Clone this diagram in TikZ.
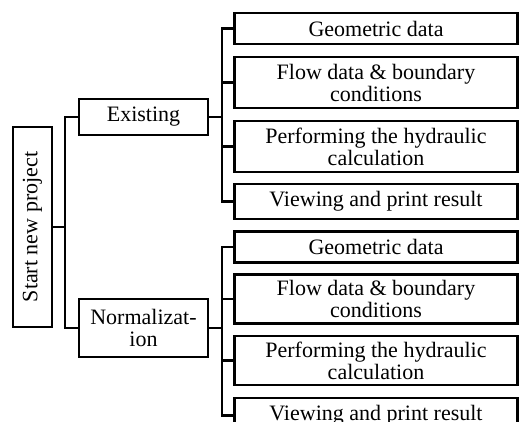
\documentclass[tikz,border=0pt]{standalone}
\usepackage{fontspec}
\setmainfont{Liberation Serif}
\begin{document}
\begin{tikzpicture}[x=1pt,y=-1pt,
  box/.style={draw,line width=2.6pt,align=center,inner sep=0pt,
    font=\fontsize{22}{22}\selectfont},
  child/.style={box,minimum width=283pt},
  single/.style={child,minimum height=31pt},
  double/.style={child,minimum height=51pt},
  conn/.style={line width=2.6pt}]
\clip (0,0) rectangle (520,421);
\fill[white] (0,0) rectangle (520,421);
% root
\node[box,minimum width=39pt,minimum height=200pt] (start) at (32.5,227) {};
\node[rotate=90,font=\fontsize{22}{22}\selectfont] (starttext) at (start.center) {Start new project};
% middle level
\node[box,minimum width=129pt,minimum height=36pt] (ex) at (143.5,117) {Existing};
\node[box,minimum width=129pt,minimum height=58pt] (no) at (143.5,328) {Normalizat-\\ion};
% Existing children
\node[single] (e1) at (376,28.5) {Geometric data};
\node[double] (e2) at (376,82.5) {Flow data \& boundary\\conditions};
\node[double] (e3) at (376,146.5) {Performing the hydraulic\\calculation};
\node[single,minimum height=35pt] (e4) at (376,201.5) {Viewing and print result};
% Normalization children
\node[single] (n1) at (376,247) {Geometric data};
\node[double,minimum height=49pt] (n2) at (376,299) {Flow data \& boundary\\conditions};
\node[double,minimum height=49pt] (n3) at (376,360.5) {Performing the hydraulic\\calculation};
\node[single,minimum height=35pt] (n4) at (376,415.5) {Viewing and print result};
% connectors
\coordinate (b1) at (65,227);
\coordinate (b2) at (222,117);
\coordinate (b3) at (222,328);
\draw[conn] (start.east) -- (b1);
\draw[conn] (ex.west) -| (b1) |- (no.west);
\draw[conn] (ex.east) -- (b2);
\draw[conn] (e1.west) -| (b2) |- (e4.west);
\draw[conn] (e2.west) -- (e2.west -| b2);
\draw[conn] (e3.west) -- (e3.west -| b2);
\draw[conn] (no.east) -- (b3);
\draw[conn] (n1.west) -| (b3) |- (n4.west);
\draw[conn] (n2.west) -- (n2.west -| b3);
\draw[conn] (n3.west) -- (n3.west -| b3);
\end{tikzpicture}
\end{document}
